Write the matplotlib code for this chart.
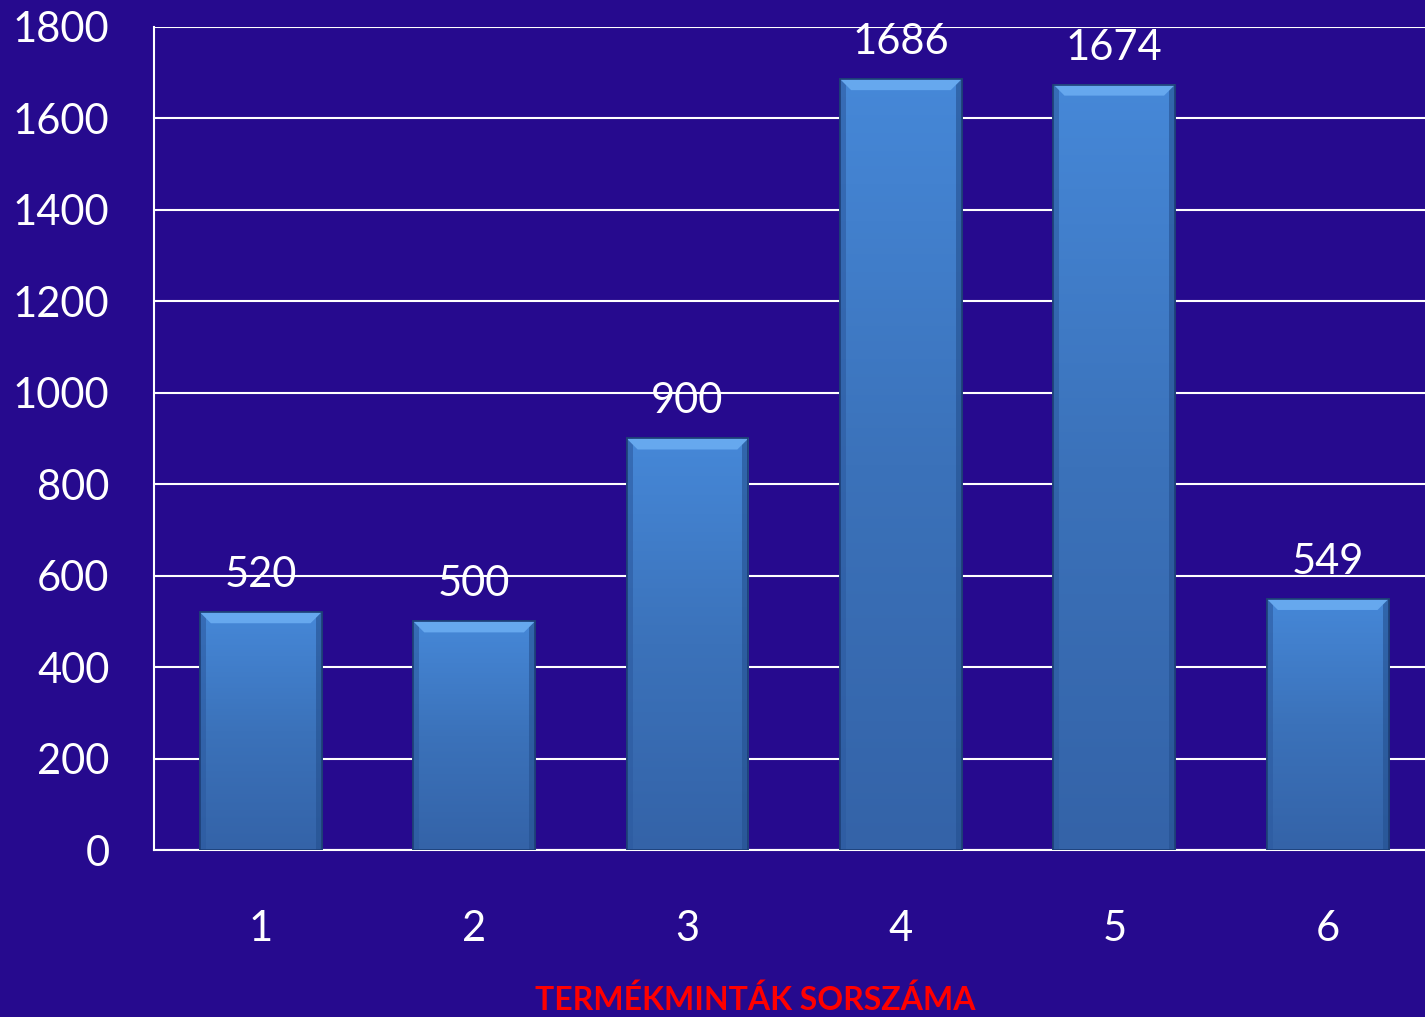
import matplotlib
matplotlib.use("Agg")
import matplotlib.pyplot as plt
import numpy as np
from matplotlib.patches import Polygon
from matplotlib.colors import LinearSegmentedColormap

categories = ["1", "2", "3", "4", "5", "6"]
values = [520, 500, 900, 1686, 1674, 549]
y_ticks = [0, 200, 400, 600, 800, 1000, 1200, 1400, 1600, 1800]
x_title = "TERMÉKMINTÁK SORSZÁMA"

BG = "#260a8e"
plt.rcParams['font.family'] = ['Lato', 'DejaVu Sans']

fig = plt.figure(figsize=(14.25, 10.17), dpi=100, facecolor=BG)
W, H = 1425, 1017
ax = fig.add_axes([154 / W, 1 - 850 / H, (W - 154) / W, (850 - 27) / H])
ax.set_facecolor(BG)

x = np.arange(1, len(values) + 1)
ax.set_xlim(0.5, 0.5 + (W - 154) / 213.4)
ax.set_ylim(0, 1800)
ax.set_yticks(y_ticks)
ax.set_xticks(x)
ax.set_xticklabels(categories)
ax.grid(axis='y', color='white', linewidth=1.5, zorder=1)
ax.set_axisbelow(True)
for s in ['top', 'right']:
    ax.spines[s].set_visible(False)
ax.spines['left'].set_color('white')
ax.spines['bottom'].set_color('white')
ax.spines['left'].set_linewidth(1.5)
ax.spines['bottom'].set_linewidth(1.5)
ax.tick_params(axis='both', length=0, colors='white', labelsize=30)
ax.tick_params(axis='y', pad=32)
ax.tick_params(axis='x', pad=43)

bw = 0.57
bars = ax.bar(x, values, width=bw, color="#3f7bc8", edgecolor="#1d3f77",
              linewidth=1.2, zorder=3)

cmap = LinearSegmentedColormap.from_list("bar", ["#3463a8", "#3b72ba", "#4688d8"])
grad = np.linspace(0, 1, 256).reshape(-1, 1)

px_x = (ax.get_xlim()[1] - ax.get_xlim()[0]) / (W - 154)
px_y = 1800 / (850 - 27)

for b in bars:
    x0, y0 = b.get_x(), b.get_y()
    w, h = b.get_width(), b.get_height()
    im = ax.imshow(grad, cmap=cmap, origin='lower', aspect='auto',
                   extent=[x0, x0 + w, y0, y0 + h], zorder=3.5)
    im.set_clip_path(b)
    ax.add_patch(Polygon([[x0, y0], [x0 + 6 * px_x, y0], [x0 + 6 * px_x, y0 + h], [x0, y0 + h]],
                         closed=True, facecolor="#2c5aa0", alpha=0.6, edgecolor='none', zorder=3.6))
    ax.add_patch(Polygon([[x0 + w - 6 * px_x, y0], [x0 + w, y0], [x0 + w, y0 + h], [x0 + w - 6 * px_x, y0 + h]],
                         closed=True, facecolor="#24508f", alpha=0.6, edgecolor='none', zorder=3.6))
    bev_x = 11 * px_x
    bev_y = 11 * px_y
    ax.add_patch(Polygon([[x0, y0 + h], [x0 + w, y0 + h],
                          [x0 + w - bev_x, y0 + h - bev_y], [x0 + bev_x, y0 + h - bev_y]],
                         closed=True, facecolor="#66a8ee", edgecolor='none', zorder=3.7))
    ax.add_patch(Polygon([[x0, y0], [x0 + w, y0], [x0 + w, y0 + h], [x0, y0 + h]],
                         closed=True, facecolor='none', edgecolor="#1d3f77", linewidth=1.2, zorder=3.8))
    ax.annotate(f"{int(h)}", (x0 + w / 2, y0 + h), xytext=(0, 13), textcoords='offset points',
                ha='center', va='bottom', color='white', fontsize=30, zorder=5)

fig.text((536 + 975) / 2 / W, 1 - 1000 / H, x_title, color='#ff0000', fontsize=23,
         fontweight='bold', ha='center', va='center')

fig.savefig("out.png", dpi=100, facecolor=BG)
